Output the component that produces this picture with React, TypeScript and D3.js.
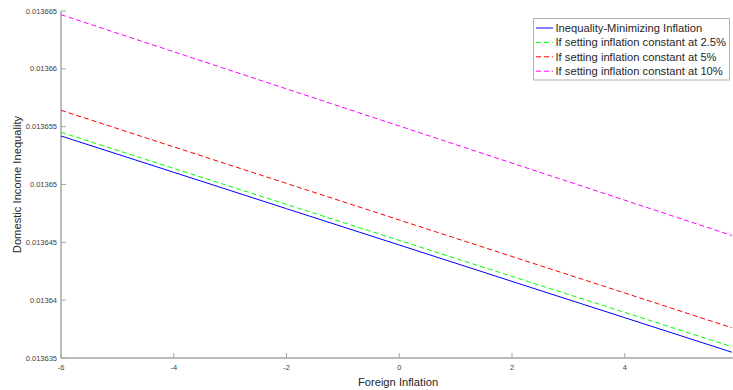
import React from "react";
import * as d3 from "d3";

// Foreign inflation grid (percent)
const foreignInflation = [-6, -4, -2, 0, 2, 4, 5.9];

// Domestic income inequality under each policy
const optimalPolicy = [0.013654194, 0.013651056, 0.013647908, 0.01364477, 0.013641623, 0.013638484, 0.013635501];
const constant25 = [0.013654514, 0.013651393, 0.01364828, 0.013645168, 0.013642055, 0.013638943, 0.013635977];
const constant5 = [0.013656416, 0.013653252, 0.013650096, 0.013646931, 0.013643776, 0.01364062, 0.013637611];
const constant10 = [0.013664682, 0.013661474, 0.013658266, 0.013655059, 0.013651851, 0.013648643, 0.013645591];

const xTicks = [-6, -4, -2, 0, 2, 4];
const yTicks = [0.013635, 0.01364, 0.013645, 0.01365, 0.013655, 0.01366, 0.013665];
const yTickLabels = ["0.013635", "0.01364", "0.013645", "0.01365", "0.013655", "0.01366", "0.013665"];

const seriesNames = [
  "Inequality-Minimizing Inflation",
  "If setting inflation constant at 2.5%",
  "If setting inflation constant at 5%",
  "If setting inflation constant at 10%",
];
const seriesValues = [optimalPolicy, constant25, constant5, constant10];
const seriesColors = ["#0000ff", "#00ff00", "#ff0000", "#ff00ff"];
const seriesDash = [null, "5,3", "5,3", "5,3"];

const W = 733;
const H = 390;
const FONT = "'Liberation Sans', Arial, Helvetica, sans-serif";

export default function App() {
  const x = d3.scaleLinear().domain([-6, 5.92]).range([61, 733]);
  const y = d3.scaleLinear().domain([0.013635, 0.013665]).range([358, 11]);

  const line = d3
    .line<[number, number]>()
    .x((d) => x(d[0]))
    .y((d) => y(d[1]));

  const axisColor = "#a6a6a6";
  const tickText = "#404040";

  const legendX = 533.5;
  const legendY = 18.5;
  const rowH = 14.4;

  return (
    <svg
      width={W}
      height={H}
      style={{ position: "absolute", left: 0, top: 0, background: "#fff" }}
      fontFamily={FONT}
    >
      <rect x={0} y={0} width={W} height={H} fill="#fff" />

      {/* axes */}
      <line x1={x(-6)} x2={x(-6)} y1={y(0.013665)} y2={358} stroke={axisColor} strokeWidth={1.5} />
      <line x1={61} x2={W} y1={358} y2={358} stroke={axisColor} strokeWidth={1.5} />

      {yTicks.map((t, i) => (
        <g key={"y" + i}>
          <line x1={61} x2={66} y1={y(t)} y2={y(t)} stroke={axisColor} strokeWidth={1} />
          <text x={57} y={y(t)} dy="0.35em" textAnchor="end" fontSize={7.5} fill={tickText}>
            {yTickLabels[i]}
          </text>
        </g>
      ))}

      {xTicks.map((t, i) => (
        <g key={"x" + i}>
          <line x1={x(t)} x2={x(t)} y1={358} y2={353} stroke={axisColor} strokeWidth={1} />
          <text x={x(t)} y={367.5} dy="0.35em" textAnchor="middle" fontSize={7.5} fill={tickText}>
            {t}
          </text>
        </g>
      ))}

      {/* series */}
      {seriesValues.map((vals, i) => (
        <path
          key={"s" + i}
          d={line(foreignInflation.map((f, j) => [f, vals[j]] as [number, number])) || ""}
          fill="none"
          stroke={seriesColors[i]}
          strokeWidth={1}
          strokeDasharray={seriesDash[i] || undefined}
        />
      ))}

      {/* axis labels */}
      <text x={398} y={382} dy="0.35em" textAnchor="middle" fontSize={11.2} fill="#262626">
        Foreign Inflation
      </text>
      <text
        transform={`translate(17.5, ${(11 + 358) / 2}) rotate(-90)`}
        textAnchor="middle"
        dy="0.35em"
        fontSize={11.2}
        fill="#262626"
      >
        Domestic Income Inequality
      </text>

      {/* legend */}
      <rect x={legendX} y={legendY} width={196} height={61.5} fill="#fff" stroke="#b3b3b3" strokeWidth={1} />
      {seriesNames.map((name, i) => {
        const ry = 28 + i * rowH;
        return (
          <g key={"l" + i}>
            <line
              x1={536}
              x2={553}
              y1={ry}
              y2={ry}
              stroke={seriesColors[i]}
              strokeWidth={1}
              strokeDasharray={seriesDash[i] || undefined}
            />
            <text x={555.5} y={ry} dy="0.35em" fontSize={11.2} fill="#262626">
              {name}
            </text>
          </g>
        );
      })}
    </svg>
  );
}
